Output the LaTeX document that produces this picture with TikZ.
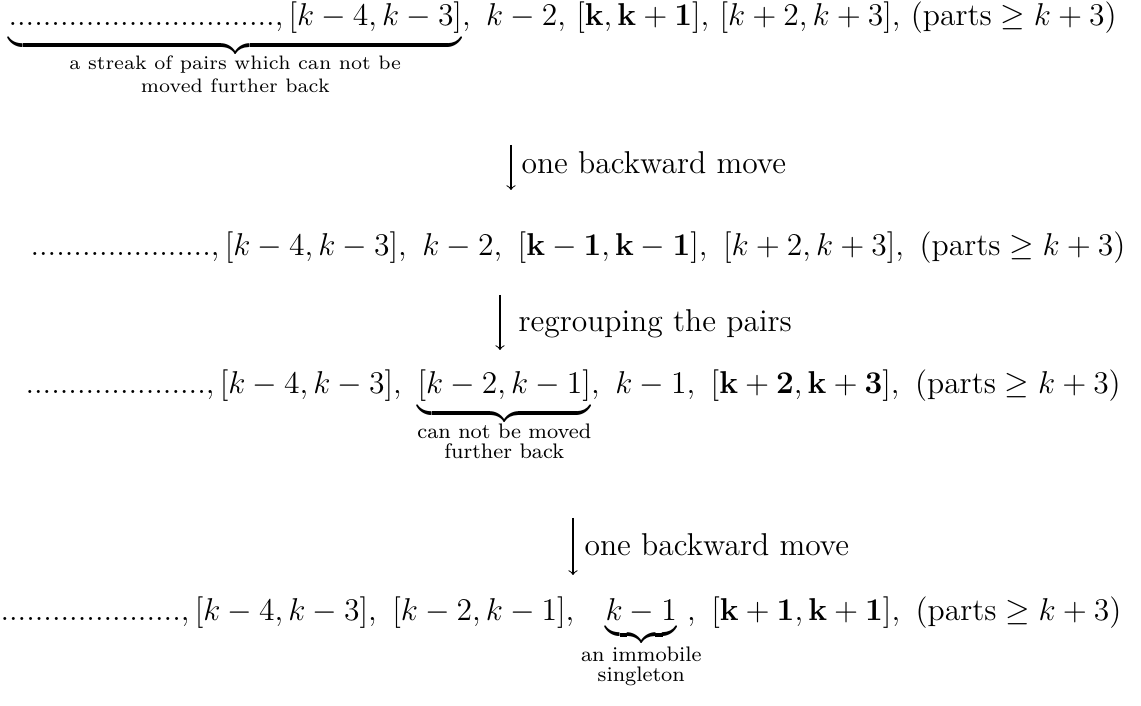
\documentclass[tikz,border=0pt,12pt]{standalone}
\usepackage{amsmath, amssymb, mathtools}
\tikzstyle{row}=[anchor=base west, inner sep=0pt]
\tikzstyle{move}=[->, line width=0.4pt]
\tikzstyle{movelabel}=[anchor=base west, inner sep=0pt]
% note under a brace: size, line skip, lift, first line, second line
\newcommand{\bracenote}[5]{\smash[t]{\raisebox{#3}{\text{\fontsize{#1}{#2}\selectfont\vtop{\lineskiplimit=-10pt\halign{\hfil##\hfil\cr#4\cr#5\cr}}}}}}

\begin{document}
\begin{tikzpicture}[x=0.38pt, y=-0.38pt]
				\useasboundingbox (0,0) rectangle (1141,706);

				% the four rows
				\node[row] (first) at (8,26) {$\underbrace{\text{...............................},[k-4,k-3]}_{\bracenote{7.4}{8.7}{1.2pt}{a streak of pairs which can not be}{moved further back}},\ k-2{,}\ [\mathbf{k},\mathbf{k+1}]{,}\ [k+2,k+3]{,}\ (\text{parts} \geq k+3)$};
				\node[row] (second) at (30,256) {$\text{.....................},[k-4,k-3],\ k-2,\ [\mathbf{k-1},\mathbf{k-1}],\ [k+2,k+3],\ (\text{parts} \geq k+3)$};
				\node[row] (third) at (25,394) {$\text{.....................},[k-4,k-3],\ \underbrace{[k-2,k-1]}_{\bracenote{8}{7.3}{0.8pt}{can not be moved}{further back}},\ k-1,\ [\mathbf{k+2},\mathbf{k+3}],\ (\text{parts} \geq k+3)$};
				\node[row] (fourth) at (0,621) {$\text{.....................},[k-4,k-3],\ [k-2,k-1],\ \hspace{6pt}\underbrace{k-1}_{\mathclap{\bracenote{8}{7.3}{0.3pt}{an immobile}{singleton}}}\ ,\ [\mathbf{k+1},\mathbf{k+1}],\ (\text{parts} \geq k+3)$};

				% the moves between rows
				\coordinate (s1) at (511,145);
				\coordinate (t1) at (511,190);
				\coordinate (s2) at (500,295);
				\coordinate (t2) at (500,350);
				\coordinate (s3) at (573,518);
				\coordinate (t3) at (573,575);

				\draw[move] (s1) -- (t1);
				\draw[move] (s2) -- (t2);
				\draw[move] (s3) -- (t3);

				\node[movelabel] (m1) at (521,174) {one backward move};
				\node[movelabel] (m2) at (518,332) {regrouping the pairs};
				\node[movelabel] (m3) at (584,556) {one backward move};
			\end{tikzpicture}
\end{document}
